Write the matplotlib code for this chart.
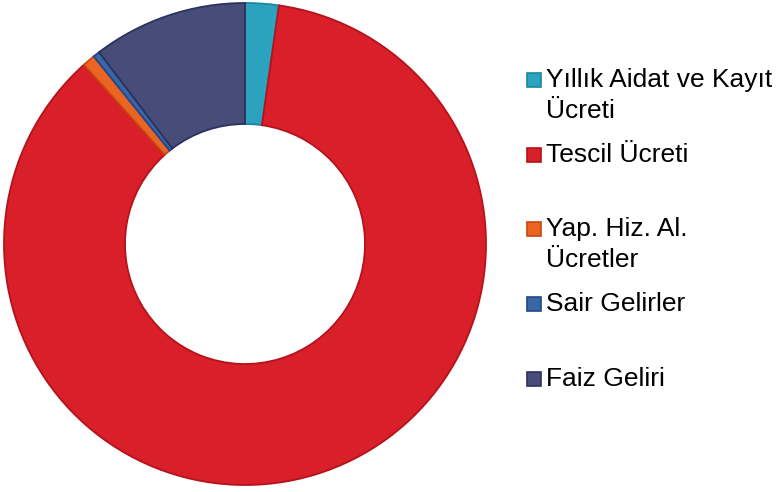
import matplotlib
matplotlib.use("Agg")
import matplotlib.pyplot as plt
from matplotlib.patches import Rectangle

# revenue shares (%), clockwise from 12 o'clock
labels = ["Yıllık Aidat ve Kayıt\nÜcreti", "Tescil Ücreti", "Yap. Hiz. Al.\nÜcretler",
          "Sair Gelirler", "Faiz Geliri"]
shares = [2.25, 86.10, 0.85, 0.45, 10.35]
colors = ["#2BA3BF", "#D91F29", "#EA6423", "#3A66A6", "#474C78"]
edges = ["#1B86A3", "#B5121B", "#C8480E", "#22478A", "#2C315F"]

W, H = 779, 492
fig = plt.figure(figsize=(W / 100, H / 100), dpi=100)
ax = fig.add_axes([0, 0, 1, 1])

R = 241
wedges, _ = ax.pie(shares, colors=colors, startangle=90, counterclock=False,
                   center=(245, H - 244), radius=R, frame=True,
                   wedgeprops=dict(width=R - 120, linewidth=1.3))
for w, ec in zip(wedges, edges):
    w.set_edgecolor(ec)
ax.set_xlim(0, W)
ax.set_ylim(0, H)
ax.axis("off")

# legend, drawn by hand: fixed ~75px slots, marker sits on first text line
for i, (lab, c, ec) in enumerate(zip(labels, colors, edges)):
    base = 86.7 + 74.8 * i  # first-line baseline, px from top
    ax.add_patch(Rectangle((527, H - base), 14, 14, facecolor=c, edgecolor=ec, lw=1.2))
    for k, line in enumerate(lab.split("\n")):
        ax.text(546, H - base - 31 * k, line, fontsize=19, family="Liberation Sans",
                va="baseline", ha="left", color="black")

fig.savefig("out.png", dpi=100)
